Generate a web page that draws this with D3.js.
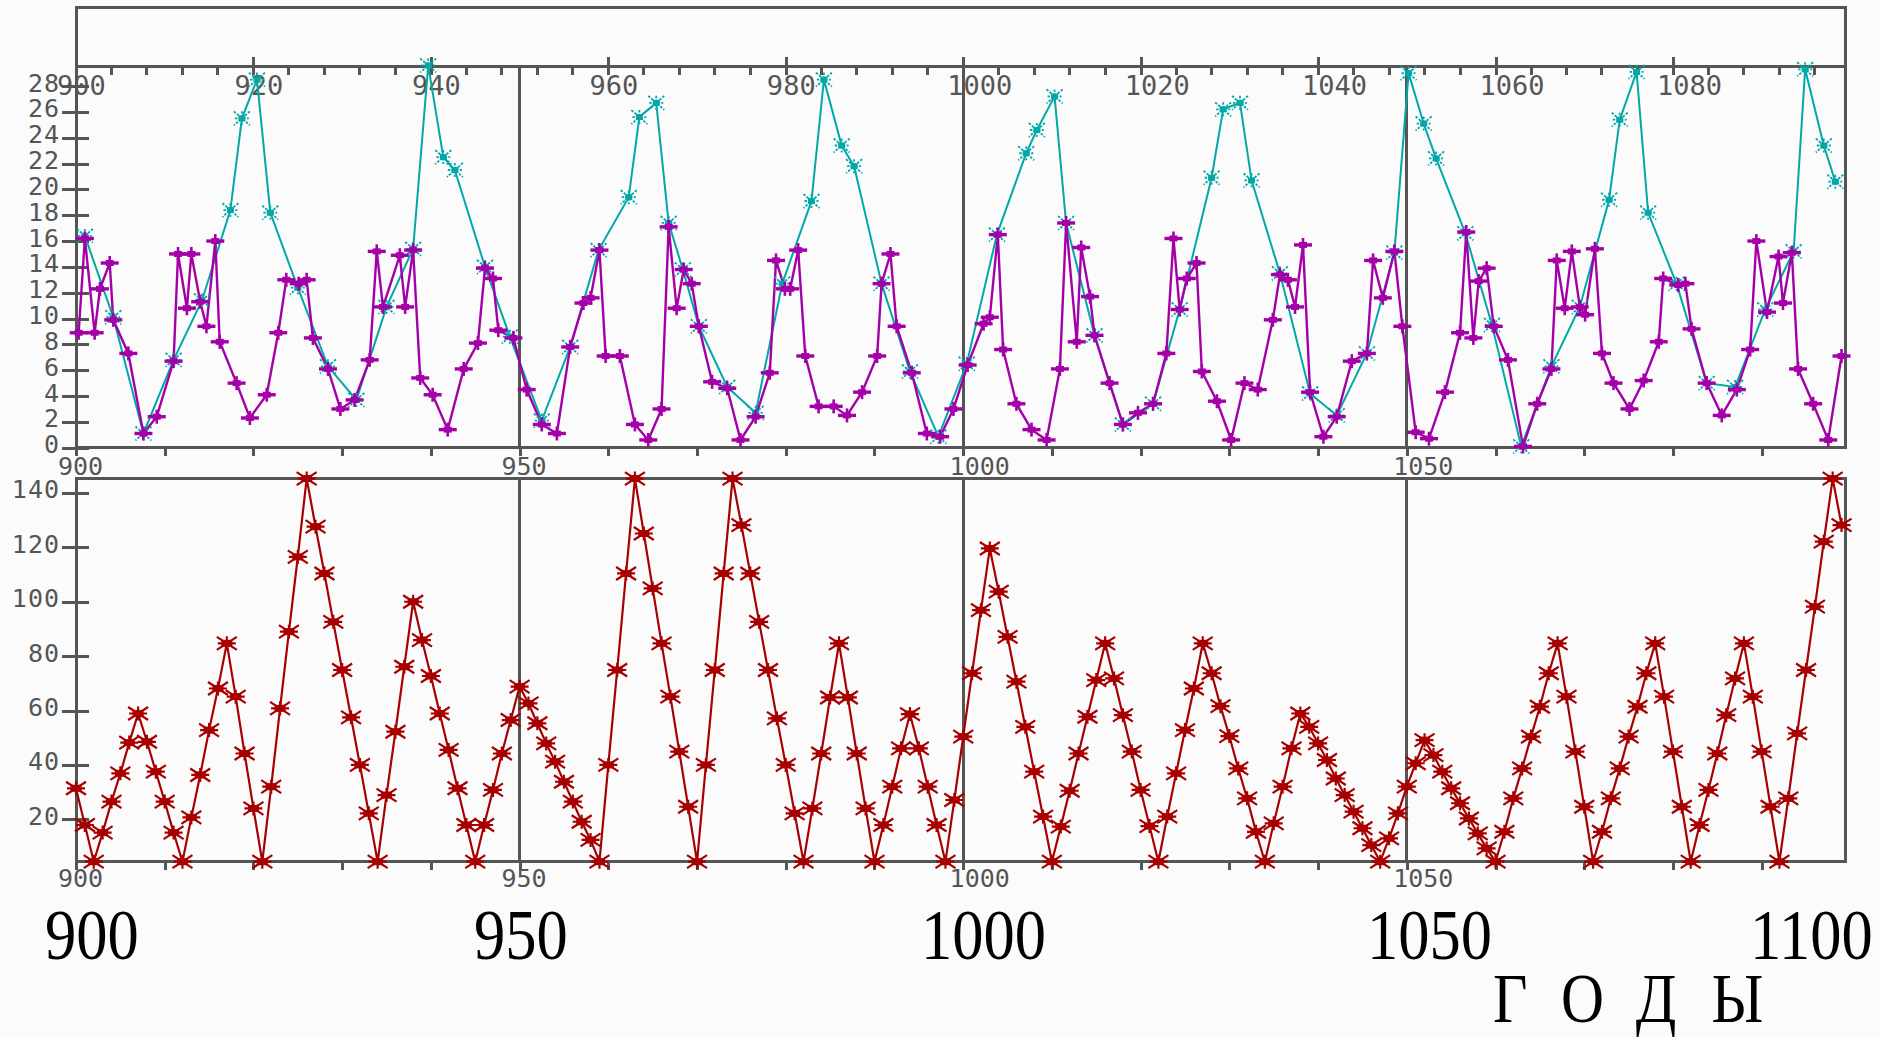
<!DOCTYPE html>
<html><head><meta charset="utf-8">
<script src="https://cdn.jsdelivr.net/npm/d3@7"></script>
<style>html,body{margin:0;padding:0;background:#fbfbfb;overflow:hidden}</style>
</head><body><svg id="c" width="1880" height="1037"></svg>
<script>
// ---------- DATA ----------
const cyanYears = [901.0,904.2,907.6,911.0,914.2,917.4,918.7,920.4,921.9,925.0,928.4,931.6,935.0,938.0,939.7,941.4,942.7,946.1,948.9,
  952.5,955.7,958.9,962.3,963.5,965.4,966.8,968.4,970.2,973.4,976.6,979.6,982.9,984.3,986.3,987.7,990.8,994.0,997.2,
  1000.4,1003.8,1007.1,1008.3,1010.3,1011.6,1014.8,1018.0,1021.4,1024.4,1028.0,1029.3,1031.2,1032.5,1035.7,1039.1,1042.1,1045.5,1048.6,
  1050.2,1051.9,1053.3,1056.6,1059.6,1062.9,1066.3,1069.5,1072.8,1074.0,1075.9,1077.2,1080.4,1083.8,1087.0,1090.4,1093.6,1094.9,1097.0,1098.3];
const cyanValues = [16.4,10.1,1.1,6.8,11.4,18.4,25.5,28.5,18.2,12.4,6.3,3.7,10.9,15.4,29.6,22.5,21.5,14.0,8.6,
  2.1,7.8,15.3,19.4,25.6,26.7,17.4,13.8,9.4,4.7,2.7,12.7,19.1,28.5,23.4,21.8,12.7,5.9,0.85,
  6.5,16.5,22.8,24.6,27.2,17.4,8.7,1.8,3.4,10.7,20.9,26.2,26.7,20.7,13.5,4.2,2.5,7.3,15.1,
  29.0,25.1,22.4,16.6,9.5,0.1,6.3,10.9,19.2,25.4,29.1,18.2,12.7,5.0,4.7,10.7,15.2,29.3,23.4,20.6];

const magentaYears = [900.3,901.0,902.1,902.7,903.8,904.2,905.9,907.6,909.1,911.0,911.5,912.5,913.0,914.0,914.7,915.7,916.2,918.1,919.6,
  921.5,922.8,923.7,925.1,926.0,926.7,928.4,929.8,931.4,933.1,933.9,934.6,936.5,937.1,938.0,938.8,940.2,941.9,943.7,945.3,946.1,947.0,947.6,949.3,
  950.8,952.5,954.2,955.7,957.2,958.0,959.0,959.7,961.3,963.0,964.5,966.0,966.8,967.7,968.5,969.4,970.2,971.7,973.4,974.9,976.6,978.2,978.9,
  979.9,980.5,981.4,982.2,983.7,985.4,986.9,988.6,990.3,990.8,991.8,992.5,994.2,995.9,997.4,998.9,1000.5,
  1002.3,1003.0,1003.9,1004.5,1006.0,1007.7,1009.4,1010.9,1011.6,1012.8,1013.3,1014.3,1014.8,1016.5,1018.0,1019.7,1021.4,1022.9,1023.7,
  1024.4,1025.2,1026.3,1026.9,1028.6,1030.2,1031.7,1033.2,1034.9,1035.7,1036.6,1037.4,1038.3,1039.1,1040.6,1042.1,1043.8,1045.5,1046.2,
  1047.3,1048.6,1049.5,1051.0,1052.5,1054.3,1056.0,1056.7,1057.5,1058.1,1059.0,1059.8,1061.4,1063.1,1064.7,1066.3,1066.9,1067.8,1068.6,
  1069.5,1070.1,1071.2,1072.0,1073.3,1075.1,1076.7,1078.4,1078.9,1080.6,1081.4,1082.1,1083.8,1085.5,1087.2,1088.7,1089.4,1090.6,1091.9,
  1092.4,1093.4,1094.1,1095.8,1097.5,1099.0];
const magentaValues = [8.9,16.2,8.9,12.3,14.3,9.9,7.3,1.1,2.4,6.7,15.0,10.8,15.0,11.3,9.4,16.0,8.2,5.0,2.3,
  4.1,8.9,13.0,12.7,13.0,8.5,6.1,3.0,3.7,6.8,15.2,10.9,14.9,10.9,15.3,5.4,4.1,1.4,6.1,8.1,13.9,13.1,9.1,8.5,
  4.5,1.8,1.1,7.8,11.2,11.6,15.3,7.1,7.1,1.8,0.6,3.0,17.1,10.8,13.8,12.7,9.4,5.1,4.6,0.6,2.4,5.8,14.5,
  12.3,12.3,15.3,7.1,3.2,3.2,2.5,4.3,7.1,12.7,15.0,9.4,5.8,1.1,0.85,3.0,6.4,
  9.6,10.1,16.5,7.6,3.4,1.4,0.6,6.1,17.4,8.2,15.5,11.7,8.7,5.0,1.8,2.7,3.4,7.3,16.2,
  10.7,13.1,14.3,5.9,3.6,0.6,5.0,4.5,9.9,13.4,13.0,10.9,15.7,4.3,0.85,2.4,6.7,7.3,14.5,
  11.6,15.2,9.4,1.2,0.7,4.3,8.9,16.7,8.5,12.9,13.9,9.4,6.8,0.1,3.4,6.1,14.5,10.8,15.2,
  10.9,10.3,15.4,7.3,5.0,3.0,5.2,8.2,13.1,12.6,12.7,9.2,5.0,2.5,4.5,7.6,16.0,10.5,14.8,
  11.2,15.1,6.1,3.4,0.6,7.1];

const redYears = d3.range(900, 1100);
const redValues = [
  31.4,17.9,4.4,15.1,26.5,36.9,48.2,58.9,48.5,37.5,
  26.5,15.1,4.4,20.7,36.3,52.8,68.1,84.7,65.1,44.2,
  24.0,4.4,32.0,60.8,89.0,116.5,145.3,127.6,110.4,92.6,
  74.9,57.5,40.0,22.2,4.4,28.9,52.2,76.1,100.0,85.9,
  72.7,58.9,45.5,31.4,17.9,4.4,17.9,30.8,44.2,56.5,
  68.8,62.6,55.3,47.9,41.2,33.8,26.5,19.1,12.4,4.4,
  40.0,74.9,110.4,145.3,125.1,104.9,84.7,65.1,44.9,24.6,
  4.4,40.0,74.9,110.4,145.3,128.2,110.4,92.6,74.9,57.1,
  40.0,22.2,4.4,24.0,44.2,64.8,84.7,64.8,44.2,24.0,
  4.4,17.9,32.0,46.1,58.7,46.1,32.0,17.9,4.4,27.1,
  50.4,73.7,96.9,119.6,103.7,87.1,70.6,54.0,37.5,21.0,
  4.4,17.3,30.5,44.2,57.7,71.2,84.7,71.8,58.3,44.9,
  30.8,17.5,4.4,21.0,36.9,52.8,68.1,84.7,73.7,61.6,
  50.6,38.7,27.7,15.4,4.4,18.5,32.0,46.1,58.9,54.0,
  47.9,41.8,35.0,28.9,22.8,16.7,10.5,4.4,13.0,22.2,
  32.0,40.6,49.1,43.6,37.5,31.4,25.9,20.3,14.8,9.3,
  4.4,15.4,27.7,38.7,50.4,61.4,73.7,84.7,65.1,44.9,
  24.6,4.4,15.4,27.7,38.7,50.4,61.4,73.7,84.7,65.1,
  44.9,24.6,4.4,17.9,30.8,44.2,58.3,71.8,84.7,65.1,
  44.9,24.6,4.4,27.7,51.6,74.9,98.2,122.1,145.3,128.2];

const topYTicks = [0,2,4,6,8,10,12,14,16,18,20,22,24,26,28];
const botYTicks = [20,40,60,80,100,120,140];
const topXMajor = [900,920,940,960,980,1000,1020,1040,1060,1080];
const panelXTicks = d3.range(900,1100,10);
const panelXLabels = [900,950,1000,1050];
const dividers = [950,1000,1050];
const bigLabels = ["900","950","1000","1050","1100"];
const bigLabelX = [45,474,921,1367,1750];
const axisTitle = "ГОДЫ";

// ---------- SCALES ----------
const L = 76, R = 1845.7;
const x = d3.scaleLinear().domain([900,1099.47]).range([L,R]);
const TT = 66.7, TB = 447.7, BT = 478.3, BB = 861.7;
const yTop = d3.scaleLinear().domain([0,29.5]).range([TB,TT]);
const yBot = d3.scaleLinear().domain([4.4,145.4]).range([BB,BT]);

const GRAY = "#555555", CYAN = "#00a8a8", MAG = "#a400a8", RED = "#a80000";
const svg = d3.select("#c");
svg.append("rect").attr("width",1880).attr("height",1037).attr("fill","#fbfbfb");

const monoFont = "'DejaVu Sans Mono', monospace";

// frames
const frames = [[7,TT],[TT,TB],[BT,BB]];
frames.forEach(([t,b]) => svg.append("rect").attr("x",L).attr("y",t).attr("width",R-L).attr("height",b-t)
  .attr("fill","none").attr("stroke",GRAY).attr("stroke-width",3).attr("shape-rendering","crispEdges"));
// dividers
[[TT,TB],[BT,BB]].forEach(([t,b]) => dividers.forEach(d => svg.append("line")
  .attr("x1",x(d)).attr("x2",x(d)).attr("y1",t).attr("y2",b)
  .attr("stroke",GRAY).attr("stroke-width",3).attr("shape-rendering","crispEdges")));

function styleAxis(g){
  g.select(".domain").remove();
  g.selectAll(".tick line").attr("stroke",GRAY).attr("stroke-width",3).attr("shape-rendering","crispEdges");
  g.selectAll(".tick text").attr("fill",GRAY).style("font-family",monoFont);
}

// left axes
function leftAxis(scale, ticks){
  const g = svg.append("g").attr("transform",`translate(${L},0)`)
    .call(d3.axisLeft(scale).tickValues(ticks).tickSize(14).tickFormat(d3.format("d")));
  styleAxis(g);
  g.selectAll(".tick line").attr("x1",13).attr("x2",-14);
  g.selectAll(".tick text").attr("x",-16).attr("dy","0.2em").style("font-size","25px").style("letter-spacing","1px");
}
leftAxis(yTop, topYTicks);
leftAxis(yBot, botYTicks);

// bottom axes of panels
function bottomAxis(yPos, labelY){
  const g = svg.append("g").attr("transform",`translate(0,${yPos})`)
    .call(d3.axisBottom(x).tickValues(panelXTicks).tickSize(8)
      .tickFormat(d => panelXLabels.includes(d) ? String(d) : ""));
  styleAxis(g);
  g.selectAll(".tick text").attr("y",labelY).attr("dy",0)
    .attr("x", d => String(d).length > 3 ? 16 : 4).style("font-size","25px");
}
bottomAxis(TB, 27);
bottomAxis(BB, 25);

// top axis of top panel (minor ticks every 4 years, majors every 20)
const topAxisG = svg.append("g").attr("transform",`translate(0,${TT})`);
const minor = d3.range(900,1100,4).filter(d => d%20 !== 0);
topAxisG.selectAll("line.minor").data(minor).join("line")
  .attr("x1",d=>x(d)).attr("x2",d=>x(d)).attr("y1",0).attr("y2",8)
  .attr("stroke",GRAY).attr("stroke-width",3).attr("shape-rendering","crispEdges");
topAxisG.call(d3.axisTop(x).tickValues(topXMajor).tickSize(10).tickFormat(d3.format("d")));
styleAxis(topAxisG);
topAxisG.selectAll(".tick line").attr("y1",8).attr("y2",-10);
topAxisG.selectAll(".tick text").attr("y",28).attr("dy",0)
  .attr("x", d => String(d).length > 3 ? 16 : 5).style("font-size","27px");

// ---------- SERIES ----------
const lineTop = d3.line().x(d=>x(d[0])).y(d=>yTop(d[1]));
const lineBot = d3.line().x(d=>x(d[0])).y(d=>yBot(d[1]));
const cyanData = cyanYears.map((d,i)=>[d,cyanValues[i]]);
const magData = magentaYears.map((d,i)=>[d,magentaValues[i]]);
const redData = redYears.map((d,i)=>[d,redValues[i]]);

svg.append("path").datum(cyanData).attr("d",lineTop).attr("fill","none").attr("stroke",CYAN).attr("stroke-width",2);
svg.append("path").datum(magData).attr("d",lineTop).attr("fill","none").attr("stroke",MAG).attr("stroke-width",2.4);
svg.append("path").datum(redData).attr("d",lineBot).attr("fill","none").attr("stroke",RED).attr("stroke-width",2.2);

// markers
const cyanM = svg.append("g").selectAll("g").data(cyanData).join("g")
  .attr("transform",d=>`translate(${x(d[0])},${yTop(d[1])})`);
cyanM.append("path").attr("d","M-8,-7L8,7M8,-7L-8,7M0,-7V7M-7,0H7")
  .attr("stroke",CYAN).attr("stroke-width",1.8).attr("stroke-dasharray","2.5,1.5").attr("fill","none");
cyanM.append("rect").attr("x",-3.5).attr("y",-3).attr("width",7).attr("height",6).attr("fill",CYAN);

const magM = svg.append("g").selectAll("g").data(magData).join("g")
  .attr("transform",d=>`translate(${x(d[0])},${yTop(d[1])})`);
magM.append("path").attr("d","M-9,0H9").attr("stroke",MAG).attr("stroke-width",3.4);
magM.append("path").attr("d","M0,-7V7").attr("stroke",MAG).attr("stroke-width",2.6);
magM.append("rect").attr("x",-4).attr("y",-3).attr("width",8).attr("height",6).attr("fill",MAG);

const redM = svg.append("g").selectAll("g").data(redData).join("g")
  .attr("transform",d=>`translate(${x(d[0])},${yBot(d[1])})`);
redM.append("path").attr("d","M-10,-6.5L10,6.5M10,-6.5L-10,6.5M0,-7V7M-9,0H9")
  .attr("stroke",RED).attr("stroke-width",2.2).attr("fill","none");
redM.append("rect").attr("x",-5.5).attr("y",-3.5).attr("width",11).attr("height",7).attr("fill",RED);

// ---------- BIG LABELS ----------
bigLabels.forEach((t,i)=>{
  svg.append("text").attr("transform",`translate(${bigLabelX[i]},959) scale(0.88,1)`)
    .style("font-family","'Liberation Serif', serif").style("font-size","71px").attr("fill","#000").text(t);
});
svg.append("text").attr("transform","translate(1493,1022) scale(0.85,1)")
  .attr("textLength",318).attr("lengthAdjust","spacing")
  .style("font-family","'Liberation Serif', serif").style("font-size","70px").attr("fill","#000").text(axisTitle);
</script>
</body></html>
